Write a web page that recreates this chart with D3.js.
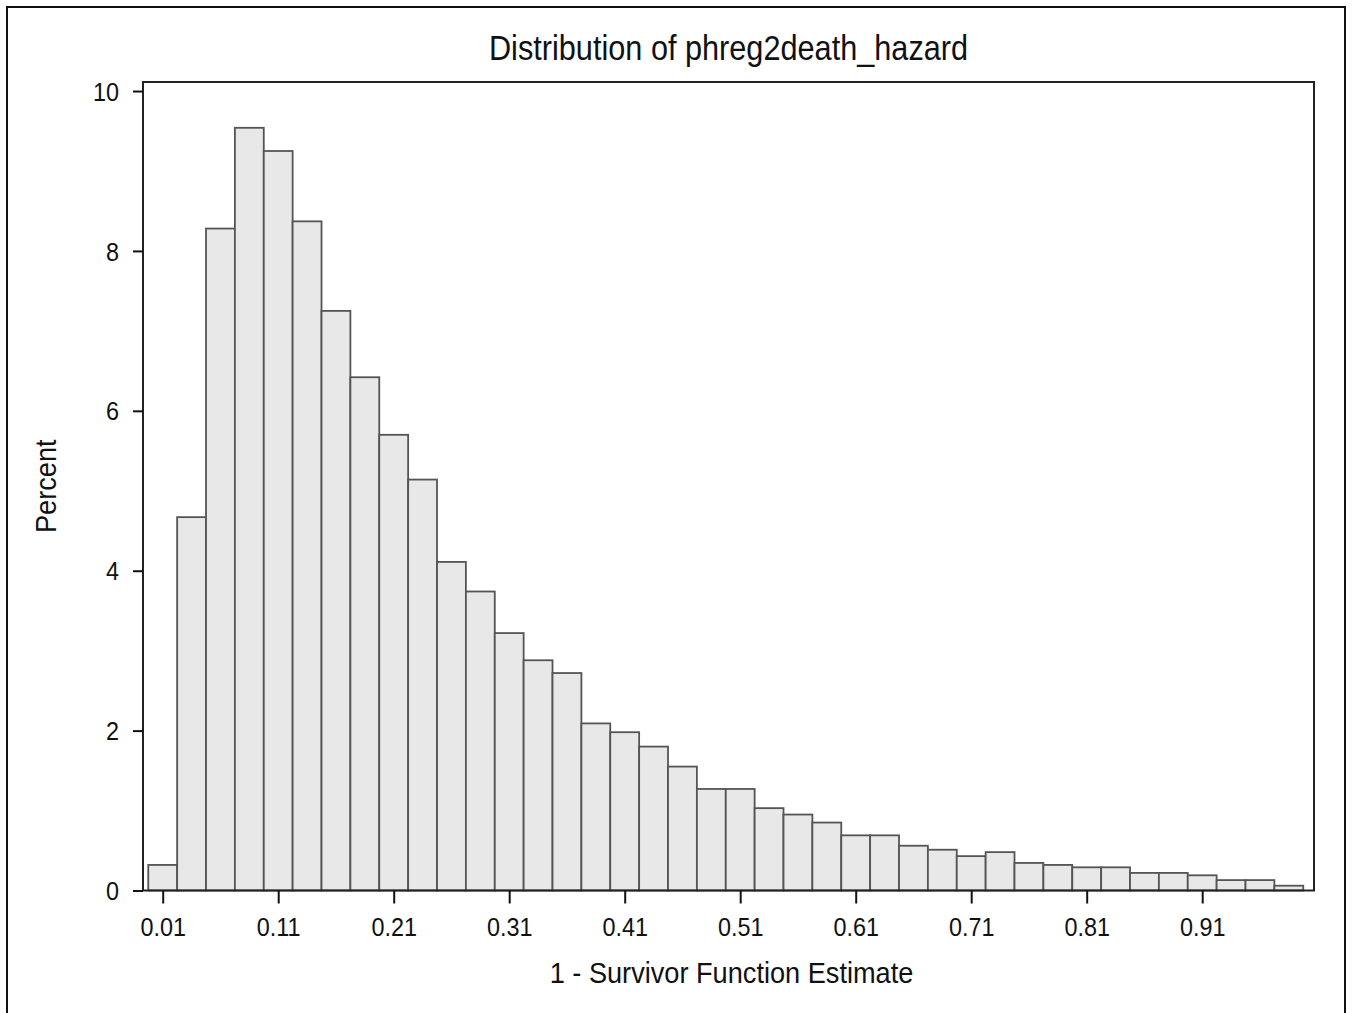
<!DOCTYPE html>
<html>
<head>
<meta charset="utf-8">
<script src="https://cdn.jsdelivr.net/npm/d3@7"></script>
<style>
  html, body { margin: 0; padding: 0; background: #fff; }
  svg { display: block; }
  text { font-family: "Liberation Sans", Arial, sans-serif; fill: #111; }
</style>
</head>
<body>
<svg id="chart" width="1352" height="1013"></svg>
<script>
// ---- data ----
const title = "Distribution of phreg2death_hazard";
const xLabel = "1 - Survivor Function Estimate";
const yLabel = "Percent";
const binWidth = 0.025;
const binMids = [0.01, 0.035, 0.06, 0.085, 0.11, 0.135, 0.16, 0.185, 0.21, 0.235,
                 0.26, 0.285, 0.31, 0.335, 0.36, 0.385, 0.41, 0.435, 0.46, 0.485,
                 0.51, 0.535, 0.56, 0.585, 0.61, 0.635, 0.66, 0.685, 0.71, 0.735,
                 0.76, 0.785, 0.81, 0.835, 0.86, 0.885, 0.91, 0.935, 0.96, 0.985];
const percent = [0.32, 4.67, 8.28, 9.54, 9.25, 8.37, 7.25, 6.42, 5.70, 5.14,
                 4.11, 3.74, 3.22, 2.88, 2.72, 2.09, 1.98, 1.80, 1.55, 1.27,
                 1.27, 1.03, 0.95, 0.85, 0.69, 0.69, 0.56, 0.51, 0.43, 0.48,
                 0.345, 0.32, 0.29, 0.29, 0.22, 0.22, 0.19, 0.13, 0.13, 0.06];
const xTicks = [0.01, 0.11, 0.21, 0.31, 0.41, 0.51, 0.61, 0.71, 0.81, 0.91];
const xTickLabels = ["0.01", "0.11", "0.21", "0.31", "0.41", "0.51", "0.61", "0.71", "0.81", "0.91"];
const yTicks = [0, 2, 4, 6, 8, 10];
const yTickLabels = ["0", "2", "4", "6", "8", "10"];

// ---- layout ----
const W = 1352, H = 1013;
const plot = { left: 143, right: 1314, top: 82, bottom: 890.5 };
const tickFont = 26, tickScale = 0.9;
const labelFont = 30, labelScale = 0.905;
const titleFont = 36, titleScale = 0.852;

const svg = d3.select("#chart");

// outer border
svg.append("rect")
  .attr("x", 7).attr("y", 7)
  .attr("width", W - 14).attr("height", H + 20)
  .attr("fill", "none").attr("stroke", "#111").attr("stroke-width", 2);

const x = d3.scaleLinear().domain([-0.00706, 1.0068]).range([plot.left, plot.right]);
const y = d3.scaleLinear().domain([0, 10.113]).range([plot.bottom, plot.top]);

const bins = binMids.map((m, i) => ({ x0: m - binWidth / 2, x1: m + binWidth / 2, v: percent[i] }));

// bars
svg.append("g").selectAll("rect").data(bins).join("rect")
  .attr("x", d => x(d.x0))
  .attr("width", d => x(d.x1) - x(d.x0))
  .attr("y", d => y(d.v))
  .attr("height", d => y(0) - y(d.v))
  .attr("fill", "#e8e8e8")
  .attr("stroke", "#555")
  .attr("stroke-width", 1.8);

// frame
svg.append("rect")
  .attr("x", plot.left).attr("y", plot.top)
  .attr("width", plot.right - plot.left).attr("height", plot.bottom - plot.top)
  .attr("fill", "none").attr("stroke", "#222").attr("stroke-width", 2);

// x axis
const xAxis = d3.axisBottom(x).tickValues(xTicks)
  .tickFormat((d, i) => xTickLabels[i]).tickSize(13).tickPadding(14);
const gx = svg.append("g").attr("transform", `translate(0,${plot.bottom})`).call(xAxis);
gx.select(".domain").remove();
gx.selectAll(".tick line").attr("stroke", "#111").attr("stroke-width", 2);
gx.selectAll(".tick text").attr("font-size", tickFont).attr("fill", "#111")
  .attr("font-family", '"Liberation Sans", Arial, sans-serif')
  .attr("transform", `scale(${tickScale},1)`);

// y axis
const yAxis = d3.axisLeft(y).tickValues(yTicks)
  .tickFormat((d, i) => yTickLabels[i]).tickSize(10).tickPadding(14);
const gy = svg.append("g").attr("transform", `translate(${plot.left},0)`).call(yAxis);
gy.select(".domain").remove();
gy.selectAll(".tick line").attr("stroke", "#111").attr("stroke-width", 2);
gy.selectAll(".tick text").attr("font-size", tickFont).attr("fill", "#111")
  .attr("font-family", '"Liberation Sans", Arial, sans-serif')
  .attr("x", -24 / tickScale).attr("dy", "0.35em")
  .attr("transform", `scale(${tickScale},1)`);

// title
svg.append("text")
  .attr("transform", `translate(${(plot.left + plot.right) / 2},60) scale(${titleScale},1)`)
  .attr("text-anchor", "middle").attr("font-size", titleFont)
  .text(title);

// x label
svg.append("text")
  .attr("transform", `translate(${(plot.left + plot.right) / 2 + 3},983) scale(${labelScale},1)`)
  .attr("text-anchor", "middle").attr("font-size", labelFont)
  .text(xLabel);

// y label
svg.append("text")
  .attr("transform", `translate(56,${(plot.top + plot.bottom) / 2}) rotate(-90) scale(${labelScale},1)`)
  .attr("text-anchor", "middle").attr("font-size", labelFont)
  .text(yLabel);
</script>
</body>
</html>
